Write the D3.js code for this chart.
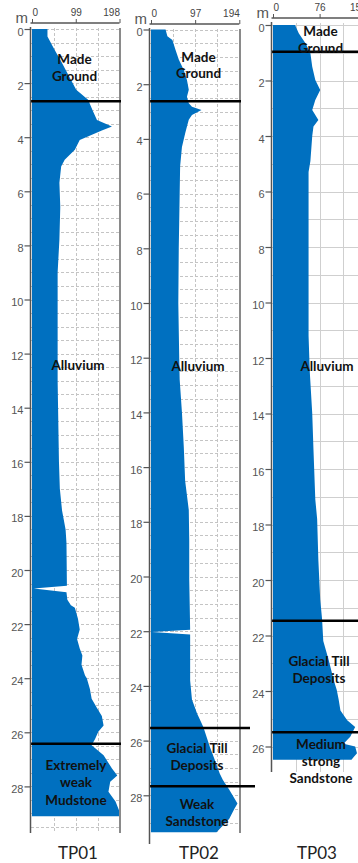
<!DOCTYPE html>
<html>
<head>
<meta charset="utf-8">
<script src="https://cdn.jsdelivr.net/npm/d3@7"></script>
<style>
  body { margin: 0; background: #fff; }
  svg { display: block; }
</style>
</head>
<body>
<svg id="chart" width="358" height="863"></svg>
<script>
// ---------------- data ----------------
const boreholes = ["TP01", "TP02", "TP03"];

// top scale tick values for each log
const tp01ScaleTicks = [0, 99, 198];
const tp02ScaleTicks = [0, 97, 194];
const tp03ScaleTicks = [0, 76, 152];

// depth tick labels (m)
const tp01DepthTicks = [0, 2, 4, 6, 8, 10, 12, 14, 16, 18, 20, 22, 24, 26, 28];
const tp02DepthTicks = [0, 2, 4, 6, 8, 10, 12, 14, 16, 18, 20, 22, 24, 26, 28];
const tp03DepthTicks = [0, 2, 4, 6, 8, 10, 12, 14, 16, 18, 20, 22, 24, 26];

// log profiles: [depth (m), value]
const tp01Profile = [
  [0, 35], [0.28, 35], [0.77, 51], [1.14, 64], [2.25, 100], [2.62, 127], [3.0, 137],
  [3.36, 147], [3.6, 181], [3.75, 158], [4.1, 108], [4.46, 97], [4.83, 74], [5.08, 66],
  [5.68, 62], [6.57, 64], [7.79, 62], [9.0, 58], [11, 58], [13, 58], [14, 59], [16, 61],
  [17, 63], [17.8, 68], [18.5, 76], [19, 78], [20.58, 79], [20.68, 4], [20.82, 78],
  [21.1, 80], [21.3, 88], [21.4, 97], [21.8, 104], [22.2, 108], [22.55, 102], [22.9, 108],
  [23.16, 114], [23.5, 112], [23.9, 120], [24.0, 124], [24.4, 131], [24.76, 135],
  [25.1, 147], [25.4, 158], [25.75, 162], [25.98, 150], [26.24, 143], [26.48, 135],
  [26.85, 162], [27.34, 181], [27.6, 193], [27.83, 177], [28.2, 173], [28.56, 189],
  [28.93, 198], [29.1, 198]
];
const tp02Profile = [
  [0, 32], [0.25, 36], [0.38, 47], [0.75, 54], [1.1, 61], [1.48, 72], [1.85, 79], [2.2, 83],
  [2.46, 79], [2.7, 83], [2.82, 90], [2.94, 111], [3.13, 90], [3.3, 83], [3.55, 79],
  [3.8, 75], [4.3, 68], [5, 64], [6, 63], [7, 62], [8, 61], [10, 60], [12, 62], [12.8, 63],
  [14, 68], [15.25, 72], [16.5, 75], [17.57, 83], [18.67, 84], [20.1, 84], [21, 85],
  [21.95, 86], [22.03, 2], [22.12, 86], [23, 86], [23.8, 86], [24.5, 90], [25, 101],
  [25.5, 115], [25.86, 122], [26.22, 129], [26.7, 140], [27.2, 151], [27.44, 158],
  [27.8, 172], [28.3, 190], [28.5, 183], [28.86, 172], [29.1, 158], [29.35, 144]
];
const tp03Profile = [
  [0, 36], [0.3, 42], [0.66, 53], [1.02, 61], [1.5, 64], [1.98, 69], [2.34, 77], [2.7, 69],
  [3.06, 64], [3.42, 74], [3.66, 66], [4.0, 64], [4.9, 61], [5.3, 58], [8, 58], [11.2, 58],
  [12.5, 60], [14, 64], [15.3, 66], [17.1, 69], [17.8, 72], [19.3, 74], [20.7, 77],
  [21.4, 80], [22.2, 82], [22.9, 91], [23.6, 99], [23.96, 104], [24.3, 107], [24.7, 110],
  [25.05, 121], [25.3, 134], [25.65, 126], [25.9, 115], [26.0, 134], [26.24, 137],
  [26.4, 131], [26.48, 128]
];

// stratum boundaries (m)
const tp01Boundaries = [2.67, 26.42];
const tp02Boundaries = [2.62, 25.54, 27.67];
const tp03Boundaries = [0.96, 21.47, 25.49];

// stratum names
const tp01Strata = [["Made", "Ground"], ["Alluvium"], ["Extremely", "weak", "Mudstone"]];
const tp02Strata = [["Made", "Ground"], ["Alluvium"], ["Glacial Till", "Deposits"], ["Weak", "Sandstone"]];
const tp03Strata = [["Made", "Ground"], ["Alluvium"], ["Glacial Till", "Deposits"], ["Medium", "strong", "Sandstone"]];

// ---------------- layout ----------------
const layout = [
  { // TP01
    x: [32, 119.5], depthRange: [29, 786.4], plotTop: 28, plotBottom: 833, axisBottom: 833,
    gridX: 49.5, gridY: 0.5, dashed: true, border: 120, titleX: 78,
    lineExt: [121, 121],
    stratumPos: [{ x: 74.5, y: [59, 76.5] }, { x: 78, y: [365.5] }, { x: 76, y: [765, 782.5, 800] }]
  },
  { // TP02
    x: [151, 239.3], depthRange: [29.5, 795.3], plotTop: 29, plotBottom: 833, axisBottom: 844,
    gridX: 48.5, gridY: 0.5, dashed: true, border: 240, titleX: 199,
    lineExt: [241, 250, 255],
    stratumPos: [{ x: 198.5, y: [57.5, 73] }, { x: 198, y: [366.5] }, { x: 197, y: [748, 765] }, { x: 197, y: [804, 821.5] }]
  },
  { // TP03
    x: [273, 366.2], depthRange: [25, 746.5], plotTop: 23, plotBottom: 772, axisBottom: 772,
    gridX: 38, gridY: 1, dashed: false, border: null, titleX: 317,
    lineExt: [360, 360, 360],
    stratumPos: [{ x: 320.5, y: [31, 48.3] }, { x: 327, y: [366.5] }, { x: 319, y: [661.7, 678.3] }, { x: 321, y: [744, 761, 778.3] }]
  }
];

const logs = [
  { name: boreholes[0], ticks: tp01ScaleTicks, depths: tp01DepthTicks, profile: tp01Profile, bounds: tp01Boundaries, strata: tp01Strata },
  { name: boreholes[1], ticks: tp02ScaleTicks, depths: tp02DepthTicks, profile: tp02Profile, bounds: tp02Boundaries, strata: tp02Strata },
  { name: boreholes[2], ticks: tp03ScaleTicks, depths: tp03DepthTicks, profile: tp03Profile, bounds: tp03Boundaries, strata: tp03Strata }
];

const FILL = "#0070c0";
const svg = d3.select("#chart");

logs.forEach((log, i) => {
  const L = layout[i];
  const maxVal = log.ticks[log.ticks.length - 1];
  const x = d3.scaleLinear().domain([0, maxVal]).range(L.x);
  const dTop = log.depths[0], dLast = log.depths[log.depths.length - 1];
  const y = d3.scaleLinear().domain([dTop, dLast]).range(L.depthRange);
  const g = svg.append("g");
  const xLeft = L.x[0] - 1;
  const xRight = L.border != null ? L.border : 358;

  // grid
  const grid = g.append("g")
    .attr("stroke", L.dashed ? "#c4c4c4" : "#cfcfcf")
    .attr("stroke-width", 1)
    .attr("stroke-dasharray", L.dashed ? "3,2" : null);
  const maxDepth = y.invert(L.plotBottom);
  const hLines = d3.range(Math.ceil(y.invert(L.plotTop) / L.gridY) * L.gridY, maxDepth, L.gridY);
  grid.selectAll("line.h").data(hLines).join("line")
    .attr("x1", xLeft).attr("x2", xRight)
    .attr("y1", d => Math.round(y(d)) + 0.5).attr("y2", d => Math.round(y(d)) + 0.5);
  const vLines = d3.range(L.gridX, maxVal + 0.01, L.gridX);
  grid.selectAll("line.v").data(vLines).join("line")
    .attr("x1", d => Math.round(x(d)) + 0.5).attr("x2", d => Math.round(x(d)) + 0.5)
    .attr("y1", L.plotTop).attr("y2", L.plotBottom);

  // profile fill
  const area = d3.area()
    .x0(x(0))
    .x1(d => x(d[1]))
    .y(d => y(d[0]));
  g.append("path").datum(log.profile)
    .attr("d", area)
    .attr("fill", FILL);

  // right border
  if (L.border != null) {
    g.append("line")
      .attr("x1", L.border).attr("x2", L.border)
      .attr("y1", L.plotTop).attr("y2", L.plotBottom)
      .attr("stroke", "#8a8a8a").attr("stroke-width", 2);
  }

  // stratum boundaries
  g.selectAll("line.b").data(log.bounds).join("line")
    .attr("x1", xLeft).attr("x2", (d, k) => L.lineExt[k])
    .attr("y1", d => y(d)).attr("y2", d => y(d))
    .attr("stroke", "#000").attr("stroke-width", 2.5);

  // left depth axis
  const yAxis = d3.axisLeft(y).tickValues(log.depths).tickSize(6).tickPadding(1).tickFormat(d3.format("d"));
  const ya = g.append("g").attr("transform", `translate(${xLeft - 0.5},0)`).call(yAxis);
  ya.select(".domain").remove();
  ya.append("line").attr("x1", 0).attr("x2", 0)
    .attr("y1", L.plotTop - 1).attr("y2", L.axisBottom)
    .attr("stroke", "#555").attr("stroke-width", 1.5);
  ya.selectAll(".tick line").attr("stroke", "#555").attr("stroke-width", 1.2);
  ya.selectAll(".tick text")
    .attr("font-family", "Liberation Sans, Arial, sans-serif")
    .attr("font-size", 11).attr("fill", "#555").attr("dy", "0.55em");

  // top scale axis
  const xAxis = d3.axisTop(x).tickValues(log.ticks).tickSize(4).tickPadding(3).tickFormat(d3.format("d"));
  const axisY = L.plotTop - 5;
  const xa = g.append("g").attr("transform", `translate(0,${axisY})`).call(xAxis);
  xa.select(".domain").remove();
  xa.append("line").attr("x1", xLeft - 0.5).attr("x2", Math.min(L.x[1], 358))
    .attr("y1", 0).attr("y2", 0).attr("stroke", "#555").attr("stroke-width", 1.5);
  xa.selectAll(".tick line").attr("stroke", "#555");
  xa.selectAll(".tick text")
    .attr("font-family", "Liberation Sans, Arial, sans-serif")
    .attr("font-size", 10).attr("fill", "#444")
    .attr("text-anchor", (d, k) => k === 0 ? "start" : (k === log.ticks.length - 1 ? "end" : "middle"));

  // unit label
  g.append("text")
    .attr("x", xLeft - 3).attr("y", axisY)
    .attr("text-anchor", "end")
    .attr("font-family", "Liberation Sans, Arial, sans-serif")
    .attr("font-size", 15).attr("fill", "#555")
    .text("m");

  // stratum names
  log.strata.forEach((lines, k) => {
    const pos = L.stratumPos[k];
    lines.forEach((t, j) => {
      g.append("text")
        .attr("x", pos.x).attr("y", pos.y[j])
        .attr("dy", "0.35em")
        .attr("text-anchor", "middle")
        .attr("font-family", "Lato, 'Open Sans', sans-serif")
        .attr("font-weight", "bold")
        .attr("font-size", 13.5)
        .attr("fill", "#111")
        .text(t);
    });
  });

  // borehole name
  g.append("text")
    .attr("x", L.titleX).attr("y", 853)
    .attr("dy", "0.35em")
    .attr("text-anchor", "middle")
    .attr("font-family", "Lato, 'Open Sans', sans-serif")
    .attr("font-size", 17).attr("fill", "#222")
    .text(log.name);
});
</script>
</body>
</html>
